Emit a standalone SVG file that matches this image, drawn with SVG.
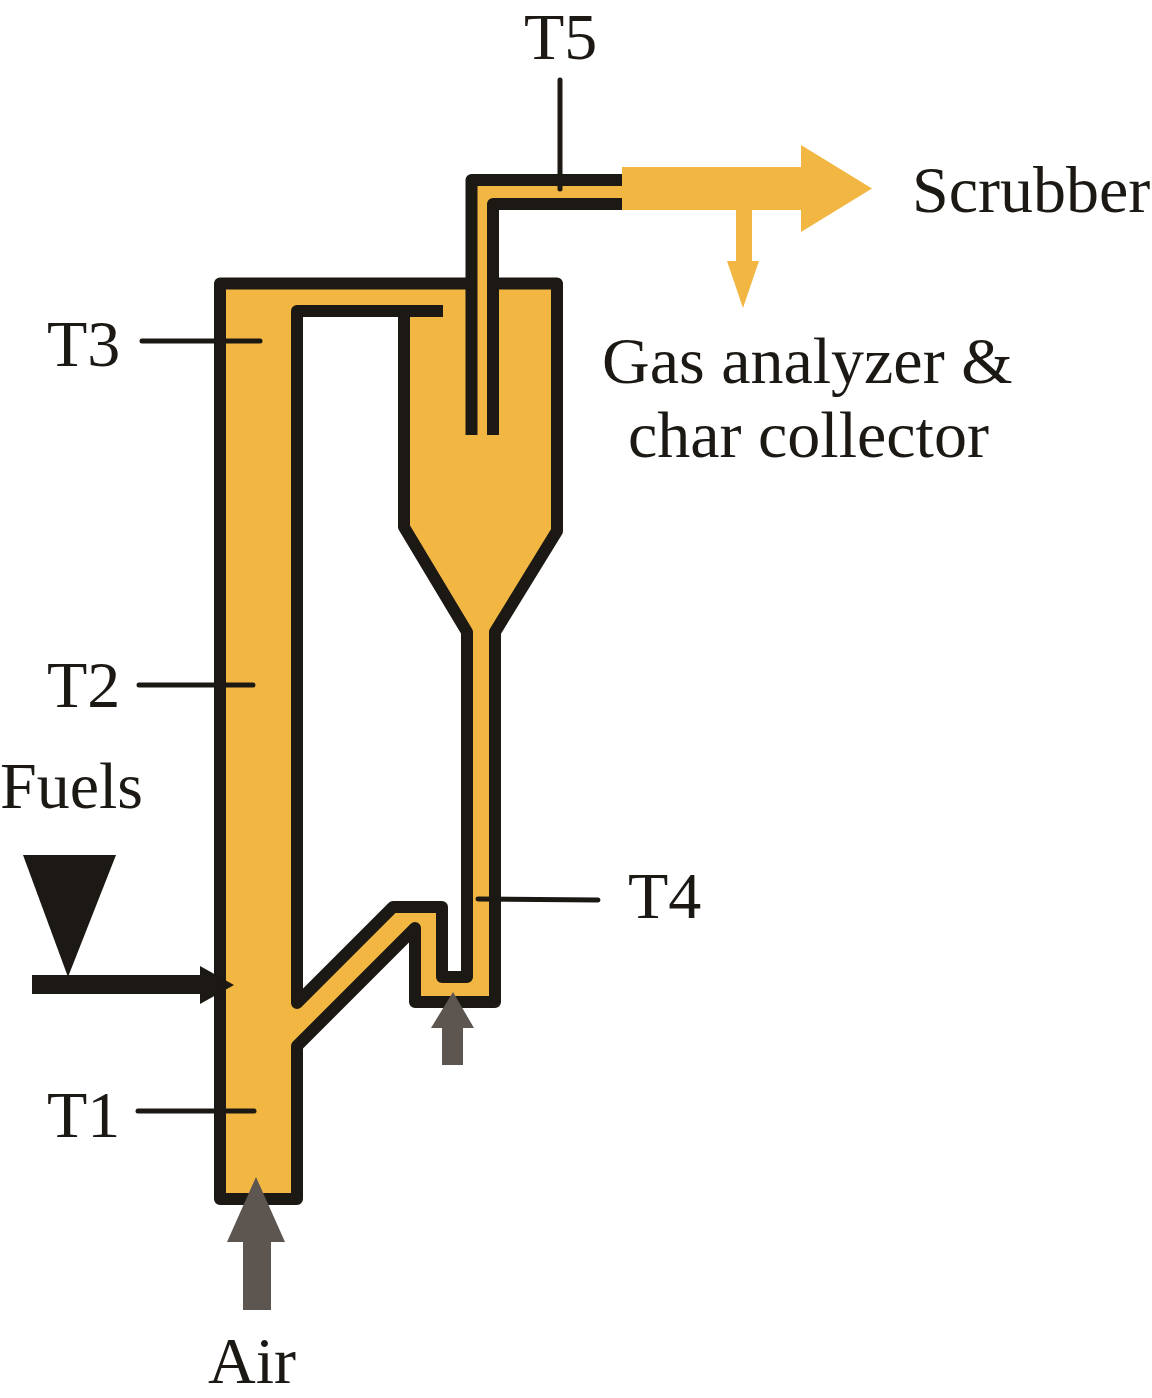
<svg xmlns="http://www.w3.org/2000/svg" width="1152" height="1398" viewBox="0 0 1152 1398">
<style>
.wall{fill:none;stroke:#1c1915;stroke-width:12;stroke-linejoin:round;stroke-linecap:butt}
.probe{fill:none;stroke:#1c1915;stroke-width:5;stroke-linecap:round}
.gas{fill:#f2b742}
.air{fill:#5d5550}
.lbl{font-family:"Liberation Serif","Times New Roman",serif;font-size:66px;fill:#1c1915}
</style>
<rect width="1152" height="1398" fill="#ffffff"/>
<g id="reactor">
<path class="gas" fill-rule="evenodd" d="M220 283.5 H557 V531 L495 632 V1002 H415 V930 L297 1046 V1199 H220 Z M297 311 H404 V527 L467 632 V977 H442 V907 H393 L297 1003 Z"/>
<path class="wall" d="M471.5 283.5 H220 V1199 H297 V1046 L415 928 V1002 H495 V632 L557 531 V283.5 H493"/>
<path class="wall" d="M443 311 H297 V1003 L393 907 H442 V977 H467 V632 L404 527 V311"/>
</g>
<g id="outlet">
<rect class="gas" x="471" y="180" width="151" height="24"/>
<rect class="gas" x="471" y="180" width="22" height="255"/>
<path class="wall" d="M471.5 435 V180 H622"/>
<path class="wall" d="M493 435 V204 H622"/>
<path class="gas" d="M622 167 H801 V145 L872 188.5 L801 232 V210 H752 V261 H759 L743 308 L727 261 H736 V210 H622 Z"/>
</g>
<g id="fuel-feed">
<polygon points="23,855 116,855 68,977" fill="#1c1915"/>
<rect x="32" y="975" width="170" height="19" fill="#1c1915"/>
<polygon points="200,966 234,985 200,1004" fill="#1c1915"/>
</g>
<g id="air-inlets">
<path class="air" d="M256 1177 L285 1242 H271 V1310 H243 V1242 H227 Z"/>
<path class="air" d="M453 992 L474 1028 H463 V1065 H442 V1028 H431 Z"/>
</g>
<g id="probes">
<line class="probe" x1="142" y1="341" x2="260" y2="341"/>
<line class="probe" x1="139" y1="685" x2="253" y2="685"/>
<line class="probe" x1="138" y1="1111" x2="254" y2="1111"/>
<line class="probe" x1="478" y1="899" x2="598" y2="900"/>
<line class="probe" x1="560" y1="80" x2="560" y2="189"/>
</g>
<g id="labels">
<text class="lbl" x="524" y="59">T5</text>
<text class="lbl" x="912" y="212">Scrubber</text>
<text class="lbl" x="602" y="383">Gas analyzer &amp;</text>
<text class="lbl" x="628" y="457">char collector</text>
<text class="lbl" x="47" y="366">T3</text>
<text class="lbl" x="47" y="707">T2</text>
<text class="lbl" x="0" y="808">Fuels</text>
<text class="lbl" x="628" y="918">T4</text>
<text class="lbl" x="47" y="1137">T1</text>
<text class="lbl" x="208" y="1383">Air</text>
</g>
</svg>
